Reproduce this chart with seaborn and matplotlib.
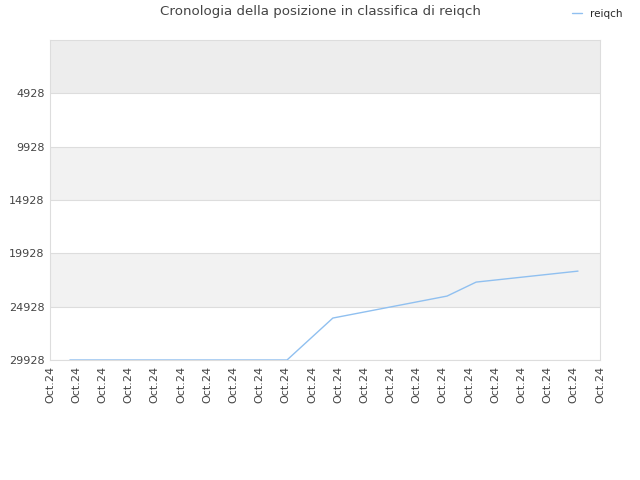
import matplotlib
matplotlib.use("Agg")
import matplotlib.pyplot as plt
import seaborn as sns
import pandas as pd
import numpy as np

# dati (x in unita' di tick, y = posizione)
x_pos = [0.76, 9.05, 10.8, 15.16, 16.27, 20.16]
posizione = [29928, 29928, 25995, 23935, 22625, 21595]
y_ticks = [4928, 9928, 14928, 19928, 24928, 29928]
x_labels = ["Oct.24"] * 22

df = pd.DataFrame({"x": x_pos, "pos": posizione})

sns.set_style("white")
plt.rcParams['font.family'] = ['DejaVu Sans']

fig = plt.figure(figsize=(6.4, 4.8), dpi=100)
ax = fig.add_axes([50 / 640, 1 - 360 / 480, 550 / 640, 320 / 480])

# bande alternate
bands = [(-72, 4928, "#ededed"), (9928, 14928, "#f2f2f2"), (19928, 24928, "#f2f2f2")]
for y0, y1, c in bands:
    ax.axhspan(y0, y1, color=c, zorder=0, lw=0)
for t in y_ticks:
    ax.axhline(t, color="#dddddd", lw=0.8, zorder=1)

sns.lineplot(data=df, x="x", y="pos", ax=ax, color="#90c0f0", lw=1, label="reiqch", zorder=3)

ax.set_ylim(29928, -72)
ax.set_xlim(0, 21)
ax.set_yticks(y_ticks)
ax.set_yticklabels([str(t) for t in y_ticks], fontsize=8, color="#444444")
ax.set_xticks(np.arange(22))
ax.set_xticklabels(x_labels, rotation=90, fontsize=8, color="#444444")
ax.tick_params(length=0, pad=4)
ax.set_xlabel("")
ax.set_ylabel("")
for s in ax.spines.values():
    s.set_color("#dddddd")
    s.set_linewidth(0.8)

fig.text(0.5, 1 - 12 / 480, "Cronologia della posizione in classifica di reiqch",
         ha="center", va="center", fontsize=9.6, color="#444444")

ax.legend(loc="center right", bbox_to_anchor=(1 - 13 / 640, 1 - 14 / 480), bbox_transform=fig.transFigure,
          frameon=False, fontsize=7.5, handlelength=1.0, handletextpad=0.8, borderaxespad=0)

fig.savefig("out.png", dpi=100)
